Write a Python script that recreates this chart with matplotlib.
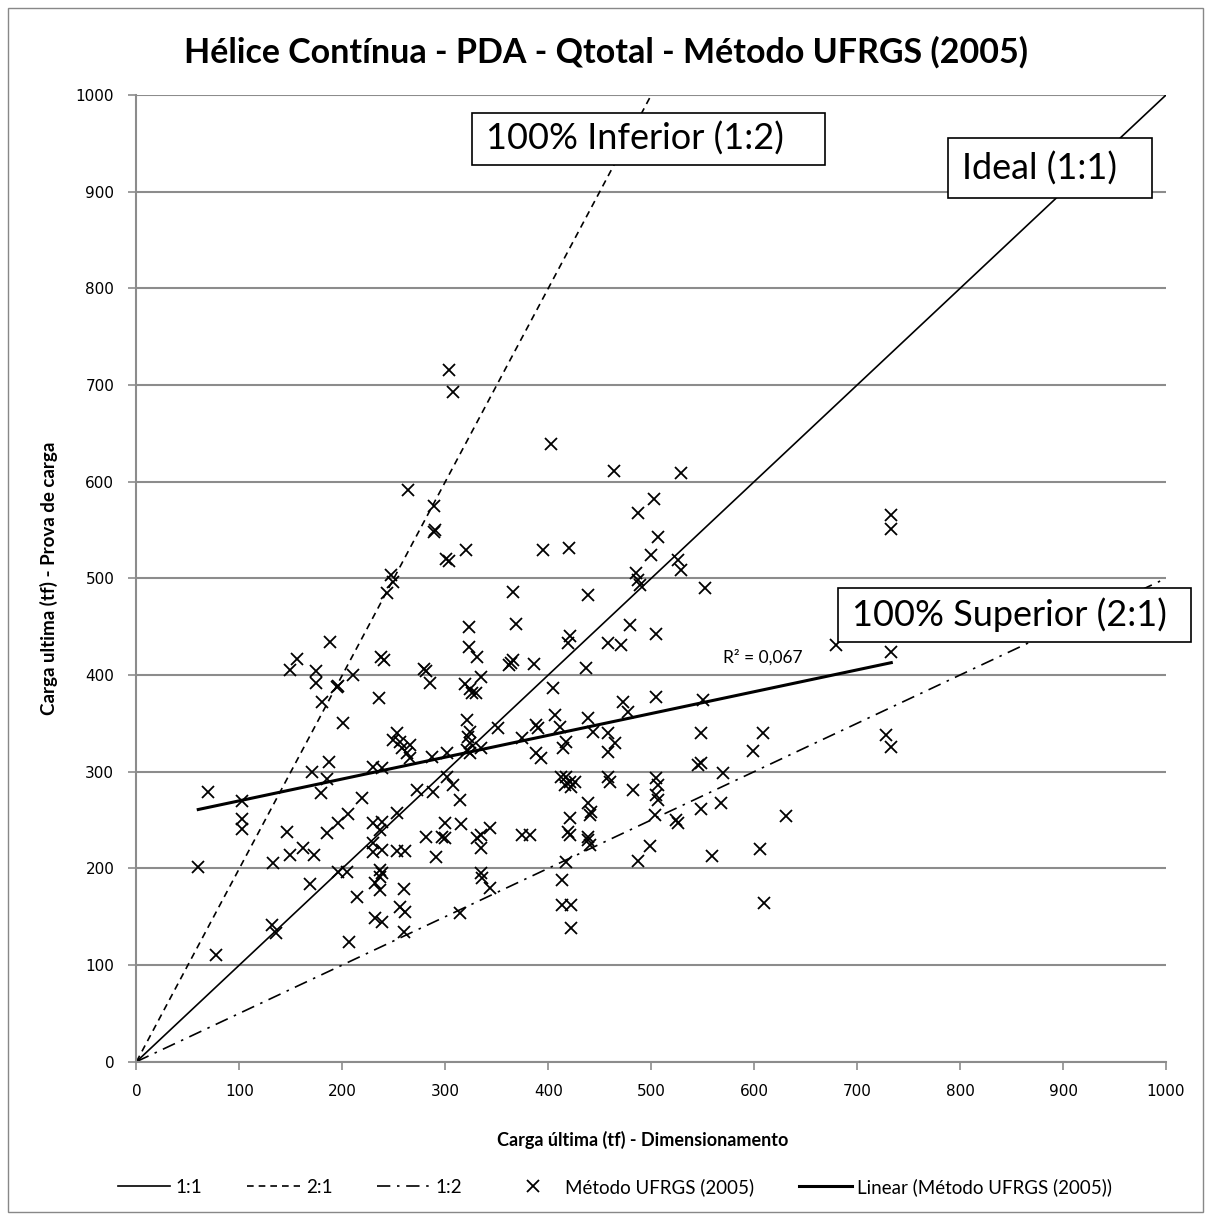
import matplotlib
matplotlib.use('Agg')
import matplotlib.pyplot as plt
import matplotlib.patches as patches
import numpy as np

plt.rcParams['font.family'] = ['Lato', 'DejaVu Sans']

# Carga ultima (tf): dimensionamento (x) vs prova de carga (y)
dimensionamento = [
    187.9, 155.5, 149.0, 174.3, 174.3, 194.4, 195.5, 179.8, 200.8, 186.6,
    170.1, 184.7, 178.8, 69.7, 102.1, 102.1, 102.1, 146.4, 184.7, 195.9,
    205.6, 149.0, 161.4, 172.3, 60.0, 132.8, 168.4, 195.9, 204.1, 131.3,
    135.4, 77.2, 206.0, 214.5, 263.9, 289.0, 289.1, 290.0, 300.8, 303.5,
    319.9, 395.3, 246.8, 249.3, 243.5, 365.8, 369.1, 323.1, 323.1, 330.9,
    237.8, 240.0, 279.1, 281.0, 361.5, 364.0, 366.0, 385.9, 210.5, 335.1,
    403.1, 303.4, 307.3, 463.6, 529.3, 502.4, 285.0, 319.0, 324.0, 325.5,
    330.0, 235.7, 252.6, 249.3, 255.8, 265.5, 257.5, 262.3, 265.5, 320.6,
    323.8, 322.1, 323.8, 320.6, 323.8, 335.1, 351.3, 374.0, 388.5, 390.1,
    388.5, 393.4, 301.2, 286.6, 229.9, 238.1, 301.2, 307.6, 314.1, 272.6,
    288.2, 219.2, 252.6, 229.9, 238.1, 236.4, 299.5, 315.7, 281.7, 296.3,
    299.5, 330.3, 335.1, 343.2, 335.1, 374.0, 382.0, 229.9, 238.1, 229.9,
    252.6, 260.7, 290.8, 236.4, 238.1, 236.4, 231.6, 236.4, 259.7, 335.1,
    336.1, 343.2, 255.8, 260.7, 231.6, 238.1, 314.1, 259.7, 487.2, 420.2,
    506.6, 500.2, 526.0, 529.3, 485.6, 487.2, 488.8, 551.9, 438.6, 479.1,
    505.0, 420.9, 419.2, 458.0, 471.0, 679.8, 733.2, 733.2, 733.2, 437.1,
    404.7, 505.0, 472.6, 477.5, 550.3, 406.3, 411.2, 438.6, 443.5, 458.0,
    464.6, 458.0, 417.7, 414.4, 548.7, 608.5, 598.8, 728.3, 733.2, 545.4,
    548.7, 569.7, 412.8, 417.7, 420.9, 416.0, 422.5, 425.7, 458.0, 459.7,
    505.0, 506.6, 482.3, 505.0, 506.6, 438.6, 441.9, 440.3, 568.1, 548.7,
    503.4, 524.4, 526.0, 630.6, 420.9, 419.2, 420.9, 438.6, 438.6, 440.3,
    417.7, 498.5, 487.2, 559.4, 606.0, 413.8, 413.8, 422.5, 609.5, 421.8,
]
prova_carga = [
    434.5, 416.3, 405.2, 404.1, 392.1, 387.9, 388.5, 372.4, 350.7, 310.3,
    300.0, 292.4, 277.6, 279.3, 269.7, 250.8, 241.0, 237.9, 236.3, 246.6,
    256.5, 213.8, 220.8, 213.8, 201.7, 205.2, 183.8, 196.5, 196.5, 141.4,
    132.8, 110.4, 123.5, 170.7, 591.6, 575.3, 548.3, 549.5, 519.5, 517.5,
    529.3, 529.3, 503.5, 496.6, 485.2, 486.2, 452.8, 449.4, 429.3, 418.3,
    418.8, 416.0, 405.9, 404.5, 410.0, 412.0, 415.5, 411.1, 400.0, 397.5,
    639.0, 715.5, 692.8, 611.4, 609.3, 582.0, 391.4, 391.0, 386.0, 381.0,
    381.5, 375.9, 339.7, 332.8, 331.0, 327.6, 324.2, 319.0, 313.9, 353.5,
    341.4, 336.2, 329.4, 322.4, 319.0, 324.2, 344.9, 334.5, 348.3, 344.9,
    319.0, 313.9, 319.0, 315.5, 305.2, 303.5, 294.8, 286.2, 270.7, 281.0,
    279.3, 272.5, 257.0, 246.6, 248.3, 239.7, 246.6, 245.9, 232.8, 232.8,
    231.1, 231.1, 234.5, 241.4, 220.8, 234.5, 234.5, 225.9, 219.0, 217.2,
    218.3, 218.3, 211.4, 198.3, 194.9, 191.4, 184.5, 177.6, 178.3, 194.9,
    189.7, 179.4, 160.3, 155.2, 148.3, 144.8, 153.5, 134.5, 567.3, 531.1,
    542.5, 524.1, 519.0, 508.6, 505.2, 498.3, 493.1, 489.7, 482.8, 451.7,
    442.4, 440.4, 432.8, 432.8, 431.1, 431.1, 424.1, 565.5, 550.7, 406.9,
    386.3, 377.6, 372.4, 362.1, 374.2, 358.6, 346.5, 355.2, 341.4, 339.7,
    329.4, 320.7, 331.0, 324.2, 339.7, 339.7, 321.7, 338.0, 325.9, 306.9,
    308.7, 298.3, 294.8, 294.8, 289.6, 286.2, 284.5, 289.6, 294.8, 289.6,
    293.2, 286.2, 281.0, 275.9, 270.7, 267.3, 258.6, 255.2, 267.3, 261.1,
    255.2, 250.0, 246.6, 254.2, 251.8, 237.9, 234.5, 232.8, 229.3, 224.1,
    206.9, 223.1, 207.9, 213.1, 219.7, 188.0, 162.1, 162.1, 163.9, 138.0,
]

ref_x = [0, 1000]
linha_1_1 = [0, 1000]
linha_2_1_x = [0, 500]
linha_2_1_y = [0, 1000]
linha_1_2 = [0, 500]

x = np.array(dimensionamento)
y = np.array(prova_carga)

fig = plt.figure(figsize=(12.11, 12.20), dpi=100)
ax = fig.add_axes([0.1127, 0.1298, 0.8501, 0.7923])

# outer chart border
fig.patches.append(patches.Rectangle((8 / 1211, 8 / 1220), 1195 / 1211, 1204 / 1220,
                                     transform=fig.transFigure, fill=False,
                                     edgecolor='#888888', linewidth=1.0))

ax.set_xlim(0, 1000)
ax.set_ylim(0, 1000)
ax.set_xticks(range(0, 1001, 100))
ax.set_yticks(range(0, 1001, 100))
ax.yaxis.grid(True, color='#8c8c8c', linewidth=1.5)
ax.set_axisbelow(True)
for s in ['top', 'right']:
    ax.spines[s].set_visible(False)
for s in ['left', 'bottom']:
    ax.spines[s].set_color('#8c8c8c')
    ax.spines[s].set_linewidth(1.5)
ax.tick_params(colors='#8c8c8c', length=6, width=1.2, labelcolor='black', pad=10)
for lab in ax.get_xticklabels() + ax.get_yticklabels():
    lab.set_fontfamily('DejaVu Sans')
    lab.set_fontsize(11)

l11, = ax.plot(ref_x, linha_1_1, color='black', lw=1.2, label='1:1')
l21, = ax.plot(linha_2_1_x, linha_2_1_y, color='black', lw=1.2, ls=(0, (4, 3)), label='2:1')
l12, = ax.plot(ref_x, linha_1_2, color='black', lw=1.2, ls=(0, (8, 4, 1.5, 4)), label='1:2')
sc, = ax.plot(x, y, ls='none', marker='x', color='black', markersize=9, mew=1.3,
              label='Método UFRGS (2005)')

# linear trend line
coef = np.polyfit(x, y, 1)
tx = np.array([x.min(), x.max()])
tl, = ax.plot(tx, np.polyval(coef, tx), color='black', lw=2.2,
              label='Linear (Método UFRGS (2005))')
ax.text(608, 418, 'R² = 0,067', fontsize=12.5, ha='center', va='center')

# label boxes (data coords)
caixas = [
    ('100% Inferior (1:2)', 325.7, 927.6, 342.7, 53.8),
    ('Ideal (1:1)', 787.9, 893.3, 199.0, 62.1),
    ('100% Superior (2:1)', 681.0, 434.1, 343.8, 55.8),
]
for txt, x0, y0, w, h in caixas:
    ax.add_patch(patches.Rectangle((x0, y0), w, h, facecolor='white', edgecolor='black',
                                   linewidth=1.2, clip_on=False, zorder=5))
    ax.text(x0 + 14, y0 + h / 2, txt, fontsize=26, ha='left', va='center', zorder=6)

fig.text(606 / 1211, 1 - 52 / 1220, 'Hélice Contínua - PDA - Qtotal - Método UFRGS (2005)',
         fontsize=24.5, fontweight='bold', ha='center', va='center')
ax.set_xlabel('Carga última (tf) - Dimensionamento', fontsize=13, fontweight='bold')
ax.xaxis.set_label_coords((643 - 136.5) / 1030, -(1140 - 1062) / 967)
ax.set_ylabel('Carga ultima (tf) - Prova de carga', fontsize=13.5, fontweight='bold')
ax.yaxis.set_label_coords((49 - 136.5) / 1030, 0.5)
ax.xaxis.label.set_va('center')
ax.yaxis.label.set_va('center')

fig.legend(handles=[l11, l21, l12, sc, tl], loc='center', bbox_to_anchor=(615 / 1211, 1 - 1187 / 1220),
           ncol=5, frameon=False, fontsize=13.5, handlelength=2.8, columnspacing=2.4,
           handletextpad=0.3)

fig.savefig('out.png', dpi=100)
